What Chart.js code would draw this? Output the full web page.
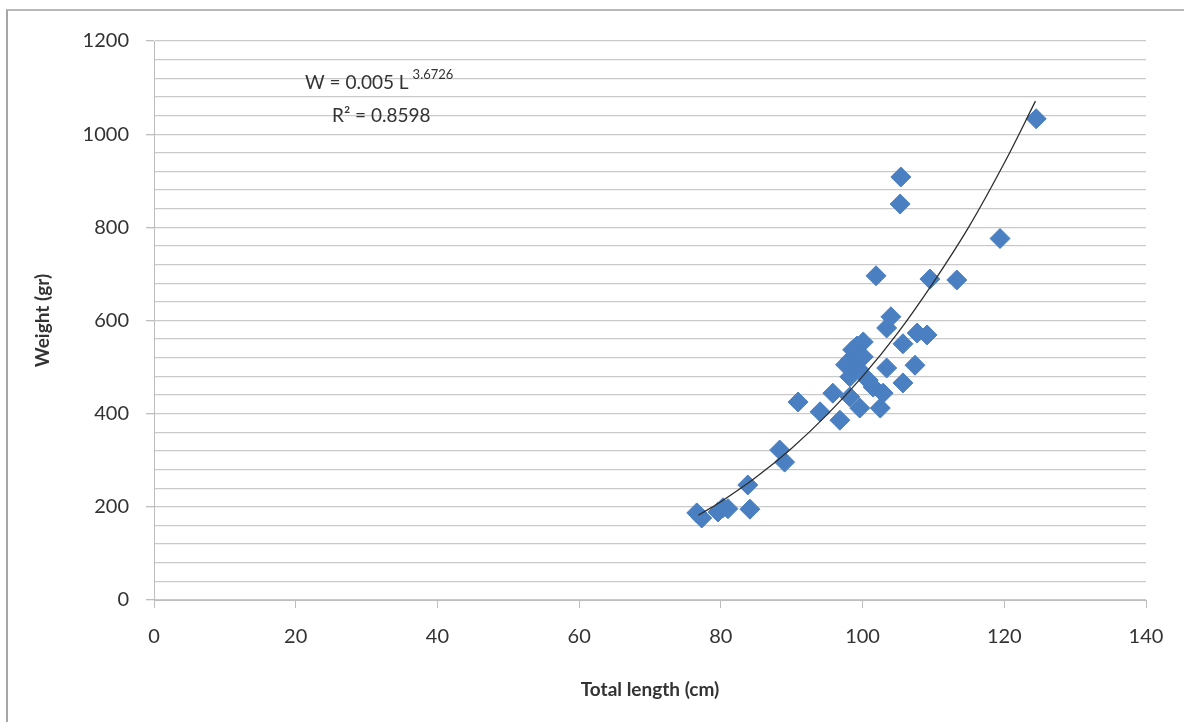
<!DOCTYPE html>
<html>
<head>
<meta charset="utf-8">
<script src="https://cdn.jsdelivr.net/npm/chart.js"></script>
<style>
  body { margin: 0; background: #fff; }
  #marco {
    position: absolute; left: 6px; top: 9px; width: 1184px; height: 722px;
    border-left: 2px solid #a6a6a6; border-top: 2px solid #b8b8b8;
  }
  #caja { position: absolute; left: 0; top: 0; width: 1184px; height: 722px; }
</style>
</head>
<body>
<div id="marco"></div>
<div id="caja"><canvas id="grafica"></canvas></div>
<script>
// Longitud total (cm) y peso (gr) de cada ejemplar
const longitudes = [76.6, 77.3, 79.6, 80.3, 81.0, 83.8, 84.1, 88.3, 89.0, 90.9,
    94.0, 95.8, 96.8, 98.2, 99.6, 102.5, 102.9, 101.5, 100.8, 98.2,
    98.2, 98.6, 99.2, 100.1, 100.1, 103.4, 105.7, 107.4, 103.4, 104.0,
    105.7, 107.7, 109.1, 101.9, 109.5, 113.3, 105.3, 105.4, 119.4, 124.5,
    97.6, 99.5];
const pesos = [187, 176, 189, 198, 196, 247, 195, 322, 296, 425,
    404, 444, 386, 436, 412, 412, 444, 457, 472, 479,
    515, 537, 545, 554, 522, 498, 466, 504, 584, 608,
    550, 573, 569, 696, 689, 687, 850, 908, 776, 1033,
    505, 495];

// Curva de tendencia potencial, puntos leidos sobre la linea
const tendenciaX = [76.8, 80, 85, 90, 95, 100, 105, 110, 115, 120, 124.4];
const tendenciaY = [182, 211, 264, 326, 398, 480, 574, 682, 801, 938, 1071];

const ticksY = [0, 200, 400, 600, 800, 1000, 1200];
const ecuacion = 'W = 0.005 L';
const exponente = '3.6726';
const r2 = 'R² = 0.8598';

const fuente = 'Lato, "Liberation Sans", sans-serif';
const colorTexto = '#333333';

// Texto de la ecuacion encima del grafico
const textoEcuacion = {
    id: 'textoEcuacion',
    afterDatasetsDraw(chart) {
        const ctx = chart.ctx;
        ctx.save();
        ctx.fillStyle = colorTexto;
        ctx.textBaseline = 'middle';
        ctx.textAlign = 'left';
        ctx.font = '19px ' + fuente;
        ctx.fillText(ecuacion, 305, 83);
        const ancho = ctx.measureText(ecuacion).width;
        ctx.font = '13px ' + fuente;
        ctx.fillText(exponente, 305 + ancho + 4, 75);
        ctx.font = '19px ' + fuente;
        ctx.fillText(r2, 332, 116);
        ctx.restore();
    }
};

const ctx = document.getElementById('grafica').getContext('2d');
new Chart(ctx, {
    type: 'scatter',
    data: {
        datasets: [{
            type: 'line',
            data: tendenciaX.map((x, i) => ({ x: x, y: tendenciaY[i] })),
            borderColor: '#2e2e2e',
            borderWidth: 1.3,
            pointRadius: 0,
            tension: 0.4,
            fill: false,
            order: 0
        }, {
            data: longitudes.map((x, i) => ({ x: x, y: pesos[i] })),
            pointStyle: 'rectRot',
            pointRadius: 10,
            backgroundColor: '#4a7fc1',
            borderColor: '#4a7fc1',
            borderWidth: 1,
            order: 1
        }]
    },
    options: {
        responsive: true,
        maintainAspectRatio: false,
        animation: false,
        layout: { padding: { left: 0, top: 41, right: 38, bottom: 0 } },
        plugins: {
            legend: { display: false },
            tooltip: { enabled: false }
        },
        scales: {
            x: {
                type: 'linear',
                min: 0,
                max: 140,
                afterFit: (escala) => { escala.height = 122; },
                ticks: {
                    stepSize: 20,
                    padding: 17,
                    color: colorTexto,
                    font: { family: fuente, size: 20 }
                },
                grid: {
                    drawOnChartArea: false,
                    drawTicks: true,
                    tickLength: 8,
                    tickColor: '#bdbdbd'
                },
                border: { display: true, color: '#bdbdbd', width: 1 },
                title: {
                    display: true,
                    text: 'Total length (cm)',
                    color: colorTexto,
                    font: { family: fuente, size: 19, weight: 'bold' },
                    padding: { top: 0, bottom: 21 }
                }
            },
            y: {
                min: 0,
                max: 1200,
                afterFit: (escala) => { escala.width = 154; },
                ticks: {
                    stepSize: 40,
                    autoSkip: false,
                    padding: 17,
                    color: colorTexto,
                    font: { family: fuente, size: 20 },
                    callback: (valor) => ticksY.includes(valor) ? valor : ''
                },
                grid: {
                    color: '#c9c9c9',
                    lineWidth: 1.3,
                    tickLength: 8,
                    tickColor: (c) => ticksY.includes(c.tick.value) ? '#bdbdbd' : 'rgba(0,0,0,0)'
                },
                border: { display: true, color: '#bdbdbd', width: 1 },
                title: {
                    display: true,
                    text: 'Weight (gr)',
                    color: colorTexto,
                    font: { family: fuente, size: 19, weight: 'bold' },
                    padding: { top: 31, bottom: 0 }
                }
            }
        }
    },
    plugins: [textoEcuacion]
});
</script>
</body>
</html>
